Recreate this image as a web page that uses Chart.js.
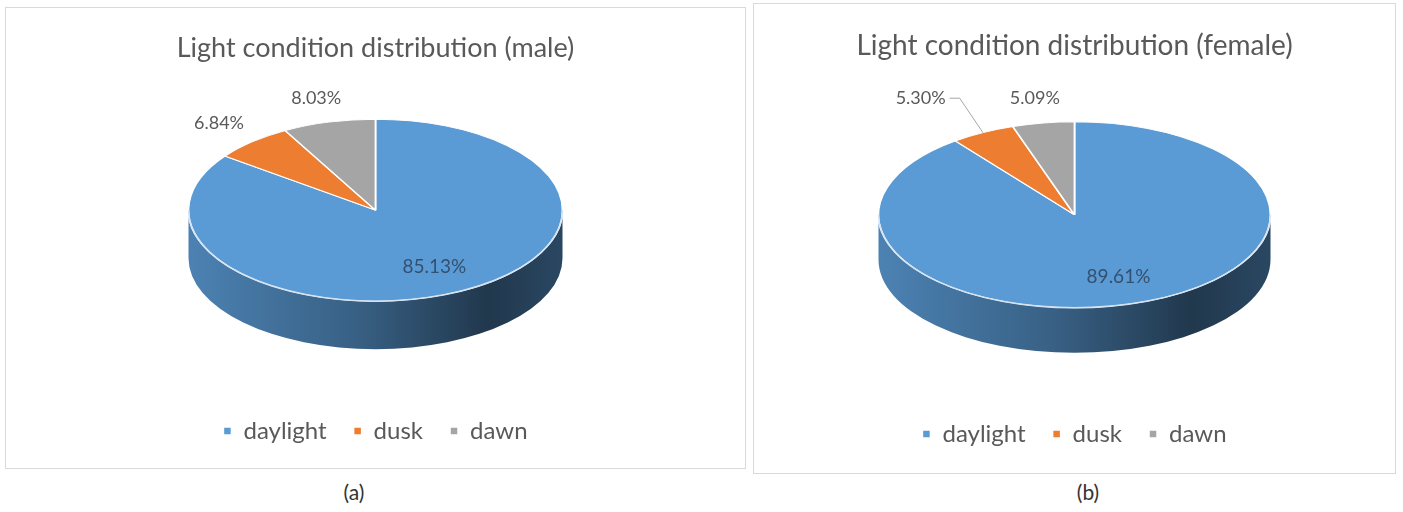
<!DOCTYPE html>
<html>
<head>
<meta charset="utf-8">
<script src="https://cdn.jsdelivr.net/npm/chart.js@4.4.0/dist/chart.umd.min.js"></script>
<style>
  body { margin: 0; background: #fff; width: 1403px; height: 512px; position: relative; overflow: hidden; font-family: Lato, sans-serif; }
  .painel { position: absolute; border: 1px solid #d9d9d9; box-sizing: border-box; }
  .legenda { position: absolute; width: 60px; text-align: center; font-size: 21px; color: #333; }
</style>
</head>
<body>
<div class="painel" style="left:5px;top:7px;width:741px;height:462px"><canvas id="graficoMasc" width="739" height="460"></canvas></div>
<div class="painel" style="left:753px;top:3px;width:643px;height:471px"><canvas id="graficoFem" width="641" height="469"></canvas></div>
<div class="legenda" style="left:324px;top:479px">(a)</div>
<div class="legenda" style="left:1058px;top:479px">(b)</div>

<script>
// Dados
const categorias = ['daylight', 'dusk', 'dawn'];
const valoresMasculino = [85.13, 6.84, 8.03];
const valoresFeminino = [89.61, 5.30, 5.09];
const cores = ['#5b9bd5', '#ed7d31', '#a5a5a5'];

function escurecer(hex, f) {
    const n = parseInt(hex.slice(1), 16);
    const r = Math.round(((n >> 16) & 255) * f);
    const g = Math.round(((n >> 8) & 255) * f);
    const b = Math.round((n & 255) * f);
    return `rgb(${r},${g},${b})`;
}

// geometria da pizza achatada, a partir do arco calculado pelo Chart.js
function geometria(chart) {
    const o = chart.options.plugins.pizza3D;
    const arcs = chart.getDatasetMeta(0).data;
    const cx = arcs[0].x, cy = arcs[0].y, r = arcs[0].outerRadius;
    return {
        o, arcs, cx, cy, r,
        rx: o.raioX, ry: o.raioY,
        topo: cy - o.elevar
    };
}

// Plugin que achata a pizza e desenha a lateral (efeito 3D do Excel)
const pizza3D = {
    id: 'pizza3D',
    beforeDatasetsDraw(chart) {
        const { o, arcs, cx, cy, r, rx, ry, topo } = geometria(chart);
        const c = chart.ctx;

        // lateral só aparece na metade da frente (ângulos 0..PI)
        arcs.forEach((arc, i) => {
            const a0 = Math.max(arc.startAngle, 0);
            const a1 = Math.min(arc.endAngle, Math.PI);
            if (a1 <= a0) return;
            const grad = c.createLinearGradient(cx - rx, 0, cx + rx, 0);
            grad.addColorStop(0, escurecer(cores[i], 0.84));
            grad.addColorStop(0.45, escurecer(cores[i], 0.62));
            grad.addColorStop(0.8, escurecer(cores[i], 0.36));
            grad.addColorStop(1, escurecer(cores[i], 0.46));
            c.save();
            c.beginPath();
            c.ellipse(cx, topo, rx, ry, 0, a0, a1);
            c.lineTo(cx + rx * Math.cos(a1), topo + ry * Math.sin(a1) + o.altura);
            c.ellipse(cx, topo + o.altura, rx, ry, 0, a1, a0, true);
            c.closePath();
            c.fillStyle = grad;
            c.fill();
            c.restore();
        });

        c.save();
        c.translate(cx, topo);
        c.scale(rx / r, ry / r);
        c.translate(-cx, -cy);
    },
    afterDatasetsDraw(chart) {
        const c = chart.ctx;
        c.restore();

        const { arcs, cx, rx, ry, topo } = geometria(chart);
        const valores = chart.data.datasets[0].data;

        // brilho na borda da frente
        c.save();
        c.beginPath();
        c.ellipse(cx, topo, rx, ry, 0, 0, Math.PI);
        c.strokeStyle = '#d6e4f2';
        c.lineWidth = 1.5;
        c.stroke();
        c.restore();

        // rótulos de porcentagem
        c.save();
        c.textAlign = 'center';
        c.textBaseline = 'middle';
        const rotulos = arcs.map((arc, i) => {
            const meio = (arc.startAngle + arc.endAngle) / 2;
            const fatia = (arc.endAngle - arc.startAngle) / (2 * Math.PI);
            const dentro = fatia > 0.2;
            const k = dentro ? 0.7 : 1.27;
            const texto = valores[i].toFixed(2) + '%';
            c.font = dentro ? '19px Lato' : '18px Lato';
            return {
                texto, dentro, meio,
                x: cx + Math.cos(meio) * rx * k,
                y: topo + Math.sin(meio) * ry * k,
                w: c.measureText(texto).width
            };
        });

        const fora = rotulos.filter(l => !l.dentro).sort((a, b) => a.x - b.x);
        for (let j = 0; j < fora.length - 1; j++) {
            const a = fora[j], b = fora[j + 1];
            const folga = (b.x - b.w / 2) - (a.x + a.w / 2);
            if (folga < 36) {
                a.x -= a.w * 0.75;
                a.y = b.y;
                a.guia = true;
            }
        }

        rotulos.forEach(l => {
            c.font = l.dentro ? '19px Lato' : '18px Lato';
            c.fillStyle = l.dentro ? '#34506f' : '#595959';
            c.fillText(l.texto, l.x, l.y);
            if (l.guia) {
                const x0 = l.x + l.w / 2 + 4;
                c.beginPath();
                c.moveTo(x0, l.y);
                c.lineTo(x0 + 10, l.y);
                c.lineTo(cx + Math.cos(l.meio) * rx, topo + Math.sin(l.meio) * ry);
                c.strokeStyle = '#a6a6a6';
                c.lineWidth = 1;
                c.stroke();
            }
        });
        c.restore();
    }
};

function criarGrafico(id, titulo, valores, ajuste) {
    const ctx = document.getElementById(id).getContext('2d');
    return new Chart(ctx, {
        type: 'pie',
        data: {
            labels: categorias,
            datasets: [{
                data: valores,
                backgroundColor: cores,
                borderColor: '#ffffff',
                borderWidth: 1.5
            }]
        },
        options: {
            responsive: false,
            animation: false,
            layout: {
                padding: { bottom: ajuste.padBaixo }
            },
            plugins: {
                title: {
                    display: true,
                    text: titulo,
                    color: '#595959',
                    font: { family: 'Lato', size: ajuste.fonteTitulo, weight: 'normal' },
                    padding: { top: ajuste.padTitulo, bottom: 10 }
                },
                legend: {
                    position: 'bottom',
                    labels: {
                        boxWidth: 8,
                        boxHeight: 8,
                        padding: 27,
                        color: '#595959',
                        font: { family: 'Lato', size: 24 }
                    }
                },
                tooltip: { enabled: false },
                pizza3D: ajuste.pizza
            }
        },
        plugins: [pizza3D]
    });
}

criarGrafico('graficoMasc', 'Light condition distribution (male)', valoresMasculino, {
    fonteTitulo: 27, padTitulo: 24, padBaixo: 15,
    pizza: { raioX: 187, raioY: 91, altura: 48, elevar: 23 }
});

criarGrafico('graficoFem', 'Light condition distribution (female)', valoresFeminino, {
    fonteTitulo: 28, padTitulo: 25, padBaixo: 17,
    pizza: { raioX: 196, raioY: 93, altura: 45, elevar: 19 }
});
</script>
</body>
</html>
